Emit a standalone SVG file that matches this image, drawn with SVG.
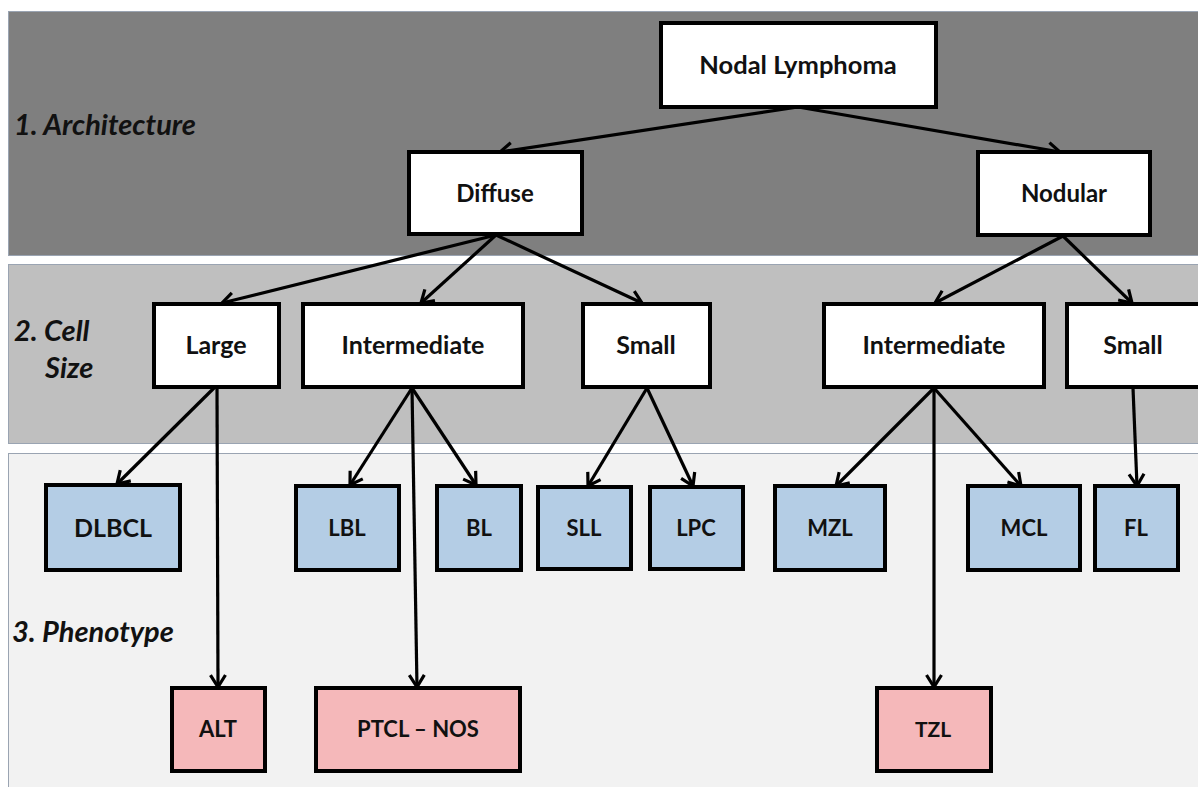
<svg xmlns="http://www.w3.org/2000/svg" width="1198" height="787" viewBox="0 0 1198 787">
<defs>
<style>
.band{stroke:#9aa4b2;stroke-width:1}
.box rect{stroke:#000;stroke-width:4}
.w rect{fill:#fff}
.b rect{fill:#b4cde5}
.p rect{fill:#f5b8ba}
.box text{font-family:Lato,"Open Sans","DejaVu Sans",sans-serif;font-weight:bold;fill:#111;text-anchor:middle}
.lab{font-family:Lato,"Open Sans","DejaVu Sans",sans-serif;font-weight:bold;font-style:italic;fill:#111;font-size:29px}
#connectors line{stroke:#000;stroke-width:3.2;fill:none;marker-end:url(#arr)}
</style>
<marker id="arr" viewBox="0 0 20 20" markerWidth="20" markerHeight="20" markerUnits="userSpaceOnUse" refX="16" refY="10" orient="auto">
<path d="M4,2.5 L16,10 L4,17.5" fill="none" stroke="#000" stroke-width="3.2"/>
</marker>
</defs>
<rect width="1198" height="787" fill="#fff"/>
<g id="bands">
<rect class="band" x="8.5" y="11.5" width="1192" height="244" fill="#7f7f7f"/>
<rect class="band" x="8.5" y="264.5" width="1192" height="179" fill="#bfbfbf"/>
<rect class="band" x="8.5" y="453.5" width="1192" height="340" fill="#f2f2f2"/>
</g>
<g id="labels">
<text class="lab" x="14" y="135">1. Architecture</text>
<text class="lab" x="14" y="341">2. Cell</text>
<text class="lab" x="45" y="378">Size</text>
<text class="lab" x="12" y="642">3. Phenotype</text>
</g>
<g id="connectors">
<line x1="798" y1="107" x2="500" y2="152"/>
<line x1="798" y1="107" x2="1060" y2="152"/>
<line x1="496" y1="235" x2="222" y2="303"/>
<line x1="496" y1="235" x2="421" y2="303"/>
<line x1="496" y1="235" x2="642" y2="303"/>
<line x1="1063" y1="236" x2="935" y2="303"/>
<line x1="1063" y1="236" x2="1132" y2="303"/>
<line x1="214" y1="388" x2="117" y2="484"/>
<line x1="217" y1="388" x2="218" y2="687"/>
<line x1="412" y1="388" x2="350" y2="485"/>
<line x1="412" y1="388" x2="476" y2="485"/>
<line x1="412" y1="388" x2="417" y2="687"/>
<line x1="647" y1="388" x2="588" y2="486"/>
<line x1="647" y1="388" x2="693" y2="486"/>
<line x1="934" y1="388" x2="836" y2="486"/>
<line x1="934" y1="388" x2="1021" y2="486"/>
<line x1="934" y1="388" x2="934" y2="687"/>
<line x1="1133" y1="388" x2="1137" y2="486"/>
</g>
<g id="n-nodal" class="box w"><rect x="661" y="23" width="275" height="84"/><text x="798" y="74" font-size="25.5">Nodal Lymphoma</text></g>
<g id="n-diffuse" class="box w"><rect x="409" y="152" width="173" height="82"/><text x="495" y="202" font-size="24">Diffuse</text></g>
<g id="n-nodular" class="box w"><rect x="978" y="152" width="172" height="83"/><text x="1064" y="202" font-size="24">Nodular</text></g>
<g id="n-large" class="box w"><rect x="154" y="304" width="125" height="83"/><text x="216" y="354" font-size="25">Large</text></g>
<g id="n-int1" class="box w"><rect x="303" y="304" width="220" height="83"/><text x="413" y="354" font-size="25">Intermediate</text></g>
<g id="n-small1" class="box w"><rect x="583" y="304" width="127" height="83"/><text x="646" y="354" font-size="25">Small</text></g>
<g id="n-int2" class="box w"><rect x="824" y="304" width="220" height="83"/><text x="934" y="354" font-size="25">Intermediate</text></g>
<g id="n-small2" class="box w"><rect x="1067" y="304" width="140" height="83"/><text x="1133" y="354" font-size="25">Small</text></g>
<g id="n-dlbcl" class="box b"><rect x="46" y="485" width="134" height="85"/><text x="113" y="537" font-size="25">DLBCL</text></g>
<g id="n-lbl" class="box b"><rect x="296" y="486" width="103" height="84"/><text x="347" y="536" font-size="22">LBL</text></g>
<g id="n-bl" class="box b"><rect x="437" y="486" width="84" height="84"/><text x="479" y="536" font-size="22">BL</text></g>
<g id="n-sll" class="box b"><rect x="538" y="487" width="93" height="82"/><text x="584" y="536" font-size="22">SLL</text></g>
<g id="n-lpc" class="box b"><rect x="650" y="487" width="93" height="82"/><text x="696" y="536" font-size="22">LPC</text></g>
<g id="n-mzl" class="box b"><rect x="775" y="486" width="110" height="84"/><text x="830" y="536" font-size="22">MZL</text></g>
<g id="n-mcl" class="box b"><rect x="968" y="486" width="112" height="84"/><text x="1024" y="536" font-size="22">MCL</text></g>
<g id="n-fl" class="box b"><rect x="1095" y="486" width="83" height="84"/><text x="1136" y="536" font-size="22">FL</text></g>
<g id="n-alt" class="box p"><rect x="172" y="688" width="93" height="83"/><text x="218" y="737" font-size="22">ALT</text></g>
<g id="n-ptcl" class="box p"><rect x="316" y="688" width="204" height="83"/><text x="418" y="737" font-size="22">PTCL – NOS</text></g>
<g id="n-tzl" class="box p"><rect x="877" y="688" width="114" height="83"/><text x="933" y="737" font-size="21">TZL</text></g>
</svg>
